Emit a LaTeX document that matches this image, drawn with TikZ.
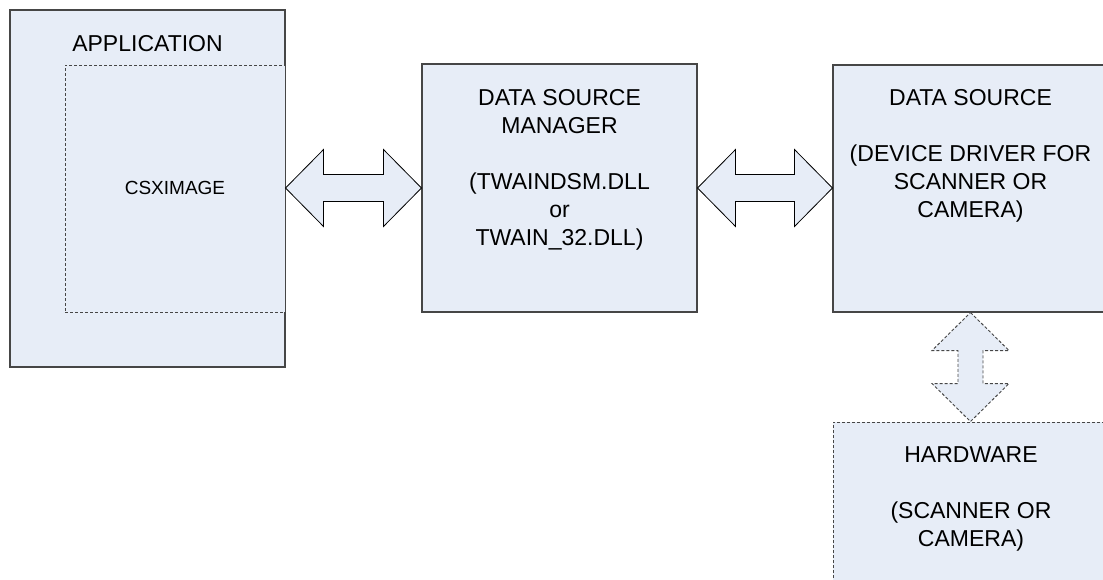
\documentclass[tikz,border=0pt]{standalone}
\usepackage{fontspec}
\setmainfont{Liberation Sans}
\usetikzlibrary{calc}
\definecolor{boxfill}{RGB}{231,237,247}
\definecolor{boxline}{RGB}{70,70,70}
\tikzset{
  box/.style 2 args={draw=boxline, line width=0.8pt, fill=boxfill, rectangle, inner sep=0pt,
    minimum width=#1*0.75pt, minimum height=#2*0.75pt},
  dashbox/.style={dash pattern=on 2.25pt off 1.5pt, line width=0.7pt},
  arrowshape/.style={draw=black, line width=0.6pt, fill=boxfill, line join=miter},
  bigtext/.style={font=\fontsize{17.25pt}{21pt}\selectfont, inner sep=0pt, align=center, anchor=base},
  smalltext/.style={font=\fontsize{14.25pt}{17pt}\selectfont, inner sep=0pt, align=center, anchor=base}
}
\begin{document}
\begin{tikzpicture}[x=0.75pt, y=-0.75pt]
\useasboundingbox (0,0) rectangle (1103,579);
\clip (0,0) rectangle (1103,579);
% boxes
\node[box={275}{357}] (app) at (147.5,188.5) {};
\node[box={220}{247}, dashbox] (csx) at (175,188.5) {};
\node[box={275}{248}] (dsm) at (559.5,188) {};
\node[box={275}{247}] (ds) at (970.5,188.5) {};
\node[box={275}{247}, dashbox] (hw) at (970.5,545.5) {};
% labels (anchor = baseline of last line)
\node[bigtext] (applbl) at (147.5,51) {APPLICATION};
\node[smalltext] (csxlbl) at (175,194) {CSXIMAGE};
\node[bigtext] (dsmlbl) at (559.5,245) {DATA SOURCE\\MANAGER\\[21pt](TWAINDSM.DLL\\or\\TWAIN\_32.DLL)};
\node[bigtext] (dslbl) at (970.5,217) {DATA SOURCE\\[21pt](DEVICE DRIVER FOR\\SCANNER OR\\CAMERA)};
\node[bigtext] (hwlbl) at (971,546) {HARDWARE\\[21pt](SCANNER OR\\CAMERA)};
% connectors
\coordinate (a1l) at (app.east |- dsm.west);
\coordinate (a1r) at (dsm.west);
\draw[arrowshape] (a1l) -- ++(38,-38.5) -- ++(0,25) -- ($(a1r)+(-38,-13.5)$) -- ++(0,-25) -- (a1r)
  -- ++(-38,38.5) -- ++(0,-25) -- ($(a1l)+(38,13.5)$) -- ++(0,25) -- cycle;
\coordinate (a2l) at (dsm.east);
\coordinate (a2r) at (ds.west |- dsm.east);
\draw[arrowshape] (a2l) -- ++(38,-38.5) -- ++(0,25) -- ($(a2r)+(-38,-13.5)$) -- ++(0,-25) -- (a2r)
  -- ++(-38,38.5) -- ++(0,-25) -- ($(a2l)+(38,13.5)$) -- ++(0,25) -- cycle;
\coordinate (a3t) at (ds.south);
\coordinate (a3b) at (hw.north);
\draw[arrowshape, draw=boxline, dashbox] (a3t) -- ++(38.5,38) -- ++(-26,0) -- ($(a3b)+(12.5,-38)$) -- ++(26,0) -- (a3b)
  -- ++(-38.5,-38) -- ++(26,0) -- ($(a3t)+(-12.5,38)$) -- ++(-26,0) -- cycle;
\end{tikzpicture}
\end{document}
